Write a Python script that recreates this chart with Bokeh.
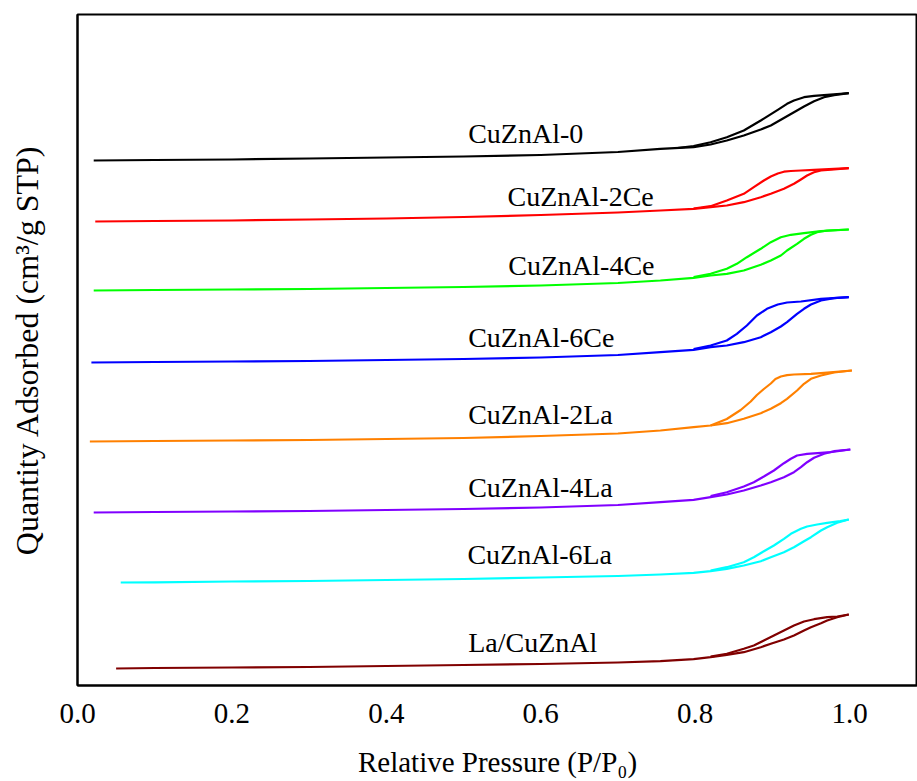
from bokeh.plotting import figure
from bokeh.models import FixedTicker, NumeralTickFormatter, ColumnDataSource
from bokeh.core.properties import value
from bokeh.embed import file_html
from bokeh.resources import INLINE

# ---- data (relative pressure, quantity adsorbed in arbitrary stacked units) ----
samples = ["CuZnAl-0", "CuZnAl-2Ce", "CuZnAl-4Ce", "CuZnAl-6Ce",
           "CuZnAl-2La", "CuZnAl-4La", "CuZnAl-6La", "La/CuZnAl"]
colors = ["#000000", "#ff0000", "#00ff00", "#0000ff",
          "#ff8000", "#8000ff", "#00ffff", "#800000"]

cz0_ads_x = [0.021,0.1,0.2,0.3,0.4,0.5,0.6,0.7,0.755,0.798,0.820,0.841,0.863,0.885,0.898,0.911,0.928,0.941,0.954,0.967,0.980,0.999]
cz0_ads_y = [525,525.5,526,527,528,529,530.5,533.5,536.7,538.3,541,545,550,556,560,565.7,573.3,579,584.3,588.3,590.3,592.3]
cz0_des_x = [0.999,0.988,0.971,0.954,0.941,0.928,0.919,0.907,0.885,0.863,0.841,0.820,0.798,0.777]
cz0_des_y = [592.3,591.7,590.7,589.7,588.3,585,581.7,575.7,565,555,548.3,543.3,539.5,537.5]

ce2_ads_x = [0.023,0.1,0.2,0.3,0.4,0.5,0.6,0.7,0.755,0.798,0.820,0.841,0.863,0.885,0.898,0.915,0.928,0.937,0.945,0.954,0.963,0.980,0.999]
ce2_ads_y = [464,464.5,465,466,467,468.5,470.5,473,475,476.7,478.3,480,483.3,488.3,491.7,496.7,501.7,506,510,513.3,515,516,517.3]
ce2_des_x = [0.999,0.954,0.937,0.924,0.915,0.907,0.898,0.889,0.876,0.863,0.841,0.820,0.798]
ce2_des_y = [517.3,515.7,515,514.5,513.8,512,509,505,498.3,491.7,485,479.3,477]

ce4_ads_x = [0.021,0.1,0.2,0.3,0.4,0.5,0.6,0.7,0.755,0.798,0.820,0.841,0.863,0.885,0.898,0.911,0.919,0.932,0.941,0.950,0.958,0.971,0.999]
ce4_ads_y = [395,395.5,396,396.5,397.5,398.5,400,402.5,405,407.7,410,411.7,415,420.7,425,430,435,441.7,446.7,450.7,453.3,455,456]
ce4_des_x = [0.999,0.963,0.941,0.924,0.911,0.898,0.885,0.867,0.854,0.841,0.820,0.798]
ce4_des_y = [456,454.3,452.3,450.7,448.3,443.3,436.7,428.3,421.7,416.7,411.7,408.5]

ce6_ads_x = [0.018,0.1,0.2,0.3,0.4,0.5,0.6,0.7,0.755,0.798,0.820,0.841,0.863,0.885,0.898,0.911,0.919,0.932,0.941,0.950,0.963,0.980,0.999]
ce6_ads_y = [323,323.5,324,324.5,325.5,326.5,328,330.5,333.3,335.7,338.3,340,343.3,348.3,353.3,359,363.3,371.7,376.7,381,385,387.3,388.3]
ce6_des_x = [0.999,0.963,0.937,0.919,0.907,0.893,0.880,0.867,0.854,0.841,0.820,0.798]
ce6_des_y = [388.3,386.7,384,383,381,376.7,370,360,351.7,345,340,336.5]

la2_ads_x = [0.016,0.1,0.2,0.3,0.4,0.5,0.6,0.7,0.755,0.798,0.820,0.841,0.863,0.885,0.898,0.911,0.919,0.932,0.941,0.950,0.963,0.980,1.003]
la2_ads_y = [244,244.5,245,245.5,246.5,247.5,249.5,252,255,258.3,260,262.3,266.7,272.3,276.7,282.3,286.7,295,301.7,306.7,310,313,315]
la2_des_x = [1.003,0.967,0.950,0.928,0.919,0.911,0.904,0.898,0.889,0.880,0.872,0.859,0.841,0.820]
la2_des_y = [315,312.7,311.7,311,310.3,309,306.5,302,296.5,290.5,284,275.5,266.5,260]

la4_ads_x = [0.021,0.1,0.2,0.3,0.4,0.5,0.6,0.7,0.755,0.798,0.820,0.841,0.863,0.885,0.898,0.915,0.928,0.937,0.945,0.954,0.967,0.980,1.001]
la4_ads_y = [173,173.5,174,174.5,175.5,176.5,178,180.5,183.3,185.7,188.3,191,195,200,203.3,208.3,213.3,218.3,223.3,227.7,231.7,234.3,236]
la4_des_x = [1.001,0.975,0.963,0.945,0.932,0.924,0.915,0.902,0.889,0.876,0.863,0.841,0.820]
la4_des_y = [236,233.3,232.7,231.7,230,226.7,222.3,215,209,203.3,199,193.3,189.5]

la6_ads_x = [0.056,0.1,0.2,0.3,0.4,0.5,0.6,0.7,0.755,0.798,0.820,0.841,0.863,0.885,0.898,0.915,0.928,0.941,0.950,0.963,0.971,0.984,0.999]
la6_ads_y = [103,103.2,104,104.5,105.5,106.5,108,109.5,111,112.7,114.3,116.7,120,124.3,128.3,133.3,138.3,144.3,148.3,155,158.3,162.7,166]
la6_des_x = [0.999,0.988,0.971,0.958,0.945,0.937,0.924,0.915,0.902,0.889,0.876,0.863,0.841,0.820]
la6_des_y = [166,164.3,162.7,161,159,156.7,151.7,146.7,140,134.3,128.3,123.3,118.3,115]

lacz_ads_x = [0.05,0.1,0.2,0.3,0.4,0.5,0.6,0.7,0.755,0.798,0.820,0.841,0.863,0.885,0.898,0.915,0.928,0.941,0.950,0.963,0.971,0.984,0.999]
lacz_ads_y = [17,17.5,18,18.5,19.5,20.5,21.5,23,24.3,26.3,28.3,30.7,33.3,38.3,41.7,46,50,55,58.3,62.3,65,68.3,71]
lacz_des_x = [0.999,0.984,0.971,0.954,0.941,0.928,0.915,0.902,0.889,0.876,0.863,0.841,0.820]
lacz_des_y = [71,69,68.3,66.3,64,60,55,50,45,40,36.7,31.7,28.8]

ads_x = [cz0_ads_x, ce2_ads_x, ce4_ads_x, ce6_ads_x, la2_ads_x, la4_ads_x, la6_ads_x, lacz_ads_x]
ads_y = [cz0_ads_y, ce2_ads_y, ce4_ads_y, ce6_ads_y, la2_ads_y, la4_ads_y, la6_ads_y, lacz_ads_y]
des_x = [cz0_des_x, ce2_des_x, ce4_des_x, ce6_des_x, la2_des_x, la4_des_x, la6_des_x, lacz_des_x]
des_y = [cz0_des_y, ce2_des_y, ce4_des_y, ce6_des_y, la2_des_y, la4_des_y, la6_des_y, lacz_des_y]

label_x = [0.506, 0.557, 0.558, 0.506, 0.506, 0.506, 0.505, 0.506]
label_y = [552, 489, 420, 348, 271, 198, 131, 43]

x_ticks = [0.0, 0.2, 0.4, 0.6, 0.8, 1.0]

FONT = "Liberation Serif"

p = figure(width=917, height=781, x_range=(0, 1.088), y_range=(0, 671),
           output_backend="svg", toolbar_location=None,
           min_border_left=77, min_border_right=0, min_border_top=14, min_border_bottom=96)
p.grid.visible = False
p.background_fill_color = "white"
p.border_fill_color = "white"
p.outline_line_color = "black"
p.outline_line_width = 2

for ax, ay, dx, dy, c in zip(ads_x, ads_y, des_x, des_y, colors):
    p.line(ax, ay, line_color=c, line_width=2.2, line_join="round")
    p.line(dx, dy, line_color=c, line_width=2.2, line_join="round")

src = ColumnDataSource(dict(x=label_x, y=label_y, t=samples))
p.text(x="x", y="y", text="t", source=src, text_font=value(FONT),
       text_font_size="28px", text_align="left", text_baseline="middle", text_color="black")

p.xaxis.ticker = FixedTicker(ticks=x_ticks)
p.xaxis.formatter = NumeralTickFormatter(format="0.0")
p.xaxis.major_tick_line_color = None
p.xaxis.minor_tick_line_color = None
p.xaxis.major_tick_out = 0
p.xaxis.major_label_standoff = 18
p.xaxis.major_label_text_font = FONT
p.xaxis.major_label_text_font_size = "29px"
p.xaxis.major_label_text_color = "black"
p.xaxis.axis_label = "Relative Pressure (P/P\u2080)"
p.xaxis.axis_label_text_font = FONT
p.xaxis.axis_label_text_font_size = "29px"
p.xaxis.axis_label_text_font_style = "normal"
p.xaxis.axis_label_text_color = "black"
p.xaxis.axis_label_standoff = 20
p.xaxis.axis_line_width = 2

p.yaxis.ticker = FixedTicker(ticks=[])
p.yaxis.major_tick_line_color = None
p.yaxis.minor_tick_line_color = None
p.yaxis.major_tick_out = 0
p.yaxis.axis_label = "Quantity Adsorbed (cm\u00b3/g STP)"
p.yaxis.axis_label_text_font = FONT
p.yaxis.axis_label_text_font_size = "32px"
p.yaxis.axis_label_text_font_style = "normal"
p.yaxis.axis_label_text_color = "black"
p.yaxis.axis_label_standoff = 33
p.yaxis.axis_line_width = 2

open("out.html", "w").write(file_html(p, INLINE))
